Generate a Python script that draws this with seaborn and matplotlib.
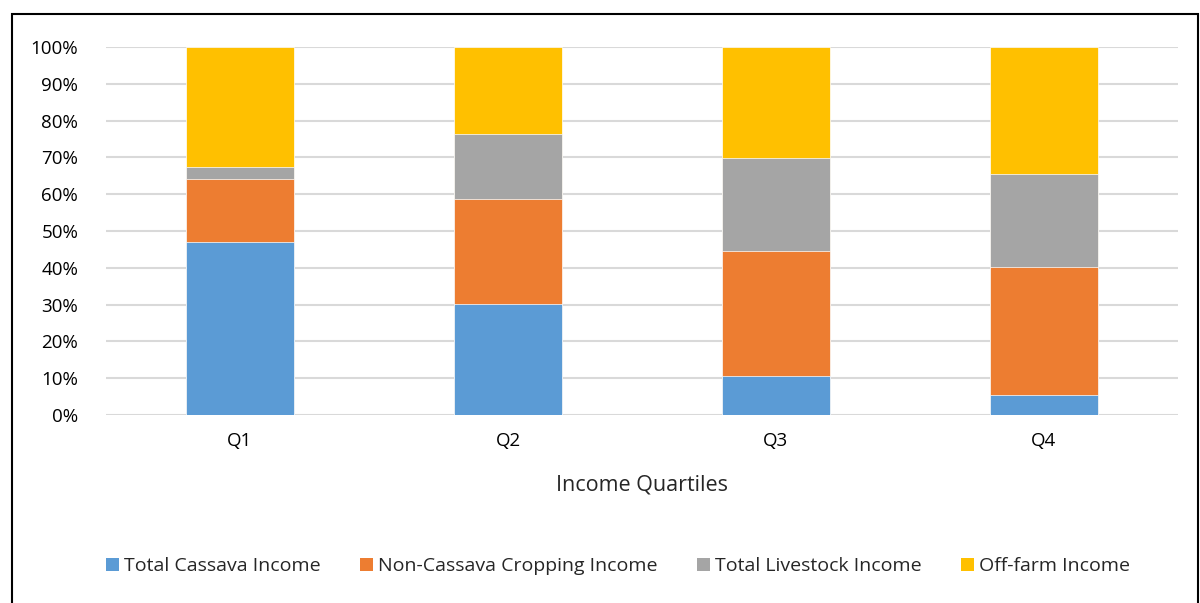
import matplotlib
matplotlib.use("Agg")
import matplotlib.pyplot as plt
import seaborn as sns
import pandas as pd
import numpy as np
from matplotlib.patches import Rectangle, Patch
from matplotlib.ticker import PercentFormatter

quartiles = ["Q1", "Q2", "Q3", "Q4"]
series = ["Total Cassava Income", "Non-Cassava Cropping Income",
          "Total Livestock Income", "Off-farm Income"]
cassava = [47.0, 30.1, 10.6, 5.3]
non_cassava = [17.0, 28.6, 33.9, 34.9]
livestock = [3.3, 17.7, 25.3, 25.3]
off_farm = [32.7, 23.6, 30.2, 34.5]
colors = ["#5B9BD5", "#ED7D31", "#A5A5A5", "#FFC000"]

sns.set_theme(style="white")
plt.rcParams['font.family'] = ['Open Sans', 'DejaVu Sans']

vals = np.array([cassava, non_cassava, livestock, off_farm]) / 100.0
cum = np.cumsum(vals, axis=0)

fig = plt.figure(figsize=(12, 6.03), dpi=100)
ax = fig.add_axes([0.0883, 0.3118, 0.8933, 0.6103])

for i in range(len(series) - 1, -1, -1):
    df = pd.DataFrame({"q": quartiles, "v": cum[i]})
    sns.barplot(data=df, x="q", y="v", color=colors[i], width=0.4,
                saturation=1, ax=ax, edgecolor="white", linewidth=0.5, zorder=3)

ax.set_ylim(0, 1)
ax.set_xlim(-0.5, 3.5)
ax.set_yticks(np.arange(0, 1.01, 0.1))
ax.yaxis.set_major_formatter(PercentFormatter(1.0, decimals=0))
ax.grid(axis="y", color="#D9D9D9", linewidth=1.5, zorder=0)
ax.set_axisbelow(True)
for s in ax.spines.values():
    s.set_visible(False)
ax.tick_params(axis="both", length=0, labelsize=13.5, colors="#000000")
ax.tick_params(axis="y", pad=20)
ax.tick_params(axis="x", pad=12)
ax.set_xlabel("Income Quartiles", fontsize=15.5, labelpad=18)
ax.set_ylabel("")

handles = [Patch(facecolor=c, edgecolor="none") for c in colors]
fig.legend(handles, series, loc="center", bbox_to_anchor=(0.515, 0.061), ncol=4,
           frameon=False, fontsize=14, handlelength=0.7, handleheight=0.7,
           handletextpad=0.25, columnspacing=2.0)

fig.patches.append(Rectangle((12/1200, -0.05), (1198-12)/1200, (1 - 14/603) + 0.05,
                             transform=fig.transFigure, fill=False,
                             edgecolor="black", linewidth=1.5, zorder=10))

fig.savefig("out.png", dpi=100)
